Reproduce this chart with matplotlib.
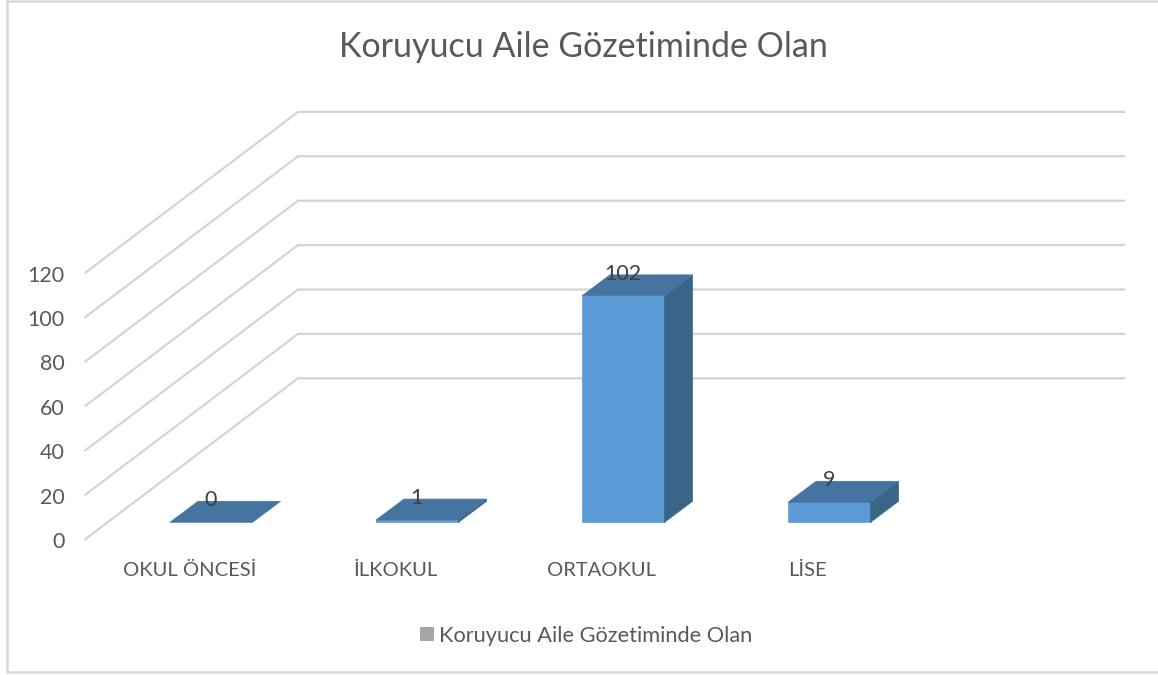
import matplotlib
matplotlib.use("Agg")
import matplotlib.pyplot as plt
from matplotlib.patches import Rectangle

plt.rcParams['font.family'] = ['Lato', 'DejaVu Sans']

title = "Koruyucu Aile Gözetiminde Olan"
categories = ["OKUL ÖNCESİ", "İLKOKUL", "ORTAOKUL", "LİSE"]
values = [0, 1, 102, 9]
ticks = [0, 20, 40, 60, 80, 100, 120]

GREY = "#595959"
FRONT = "#5B9BD5"
TOP = "#44749F"
SIDE = "#3A6488"

# pixel geometry of the oblique 3d look
PER_UNIT = 2.22
BASE_Y = 522.3
DEPTH_X, DEPTH_Y = 28, -21
FIRST_X, STEP_X, BAR_W = 170, 206, 82.5

fig = plt.figure(figsize=(11.58, 6.75), dpi=100)
ax = fig.add_axes([0, 0, 1, 1])
ax.set_xlim(0, 1158)
ax.set_ylim(675, 0)
ax.axis("off")

# outer frame, the right side is cut off in the picture
ax.plot([1158, 7, 7, 1158], [0.5, 0.5, 671.5, 671.5], color="#D9D9D9", lw=1.8, solid_joinstyle="miter")

# walls: side lines plus back lines
for t in ticks:
    y0 = 539 - t * PER_UNIT
    ax.plot([85.5, 298, 1124], [y0, y0 - 160.7, y0 - 160.7], color="#D4D4D4", lw=1.6,
            solid_joinstyle="miter", zorder=1)
    ax.text(64.5, y0 + 3, str(t), ha="right", va="center", fontsize=15.5, color=GREY)

for i, (name, v) in enumerate(zip(categories, values)):
    x0 = FIRST_X + i * STEP_X
    x1 = x0 + BAR_W
    top = BASE_Y - v * PER_UNIT
    if v > 0:
        ax.fill([x0, x1, x1, x0], [BASE_Y, BASE_Y, top, top], color=FRONT, lw=0.5, zorder=3)
        ax.fill([x1, x1 + DEPTH_X, x1 + DEPTH_X, x1],
                [BASE_Y, BASE_Y + DEPTH_Y, top + DEPTH_Y, top], color=SIDE, lw=0.5, zorder=3)
    ax.fill([x0, x1, x1 + DEPTH_X, x0 + DEPTH_X],
            [top, top, top + DEPTH_Y, top + DEPTH_Y], color=TOP, lw=0.5, zorder=3)
    ax.text(x0 + BAR_W / 2 - 0.5, top + DEPTH_Y - 1, str(v), ha="center", va="center",
            fontsize=15.5, color="#404040", zorder=4)
    ax.text(x0 + 19.5, 570, name, ha="center", va="center", fontsize=14.5, color=GREY)

ax.text(583, 47, title, ha="center", va="center", fontsize=24.5, color=GREY)

# legend
ax.add_patch(Rectangle((420, 627), 14, 13.5, color="#A5A5A5", lw=0))
ax.text(439, 636, title, ha="left", va="center", fontsize=15.7, color=GREY)

fig.savefig("out.png", dpi=100)
